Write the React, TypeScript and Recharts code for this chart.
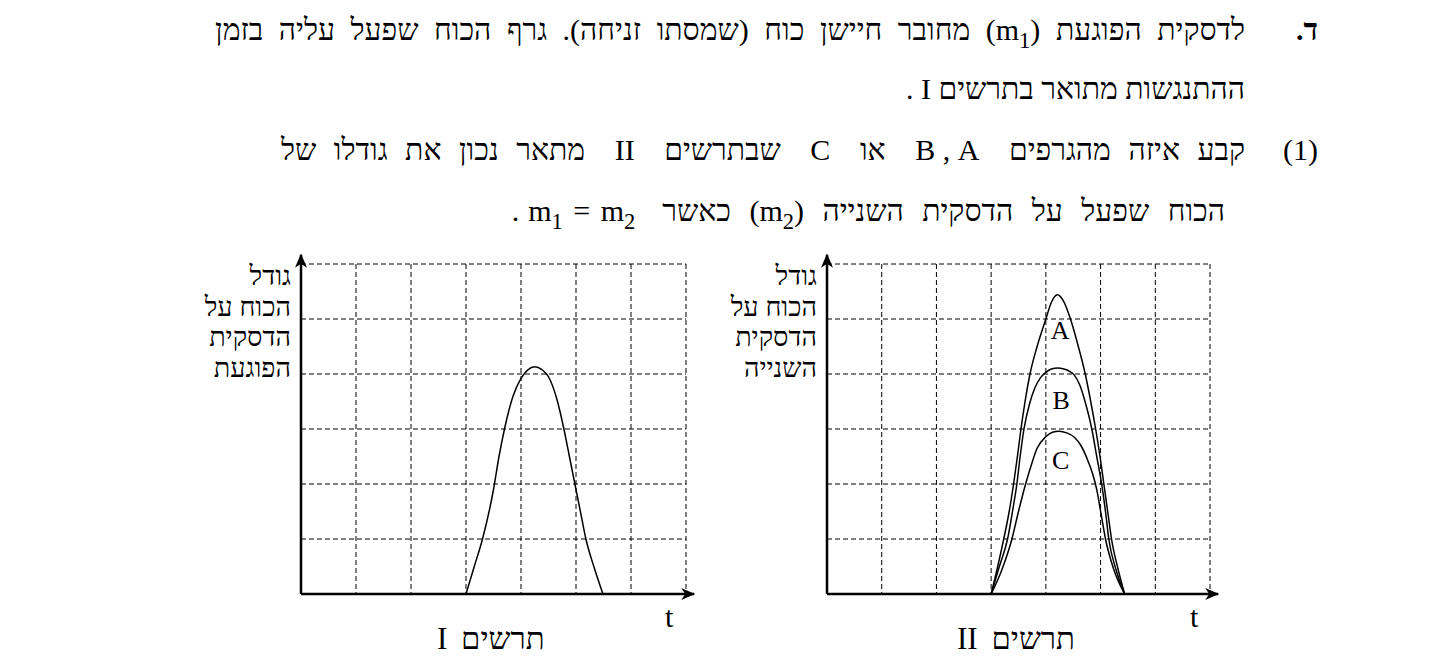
import React from 'react';
import { LineChart, Line, XAxis, YAxis, CartesianGrid, ReferenceLine, ReferenceDot } from 'recharts';

// grid values (the plot has 7 columns and 6 rows)
const gridT = [0, 1, 2, 3, 4, 5, 6, 7];
const gridF = [0, 1, 2, 3, 4, 5, 6];

// diagram I - force on the hitting disc
const impactT = [3.0, 3.15, 3.3, 3.5, 3.6, 3.7, 3.85, 4.0, 4.12, 4.25, 4.38, 4.5, 4.65, 4.78, 4.88, 4.98, 5.08, 5.18, 5.34, 5.49];
const impactF = [0, 0.5, 1.0, 1.9, 2.5, 3.0, 3.58, 3.92, 4.07, 4.13, 4.08, 3.95, 3.55, 3.0, 2.5, 2.0, 1.5, 1.0, 0.45, 0];

// diagram II - curves A, B, C
const curveAT = [3.0, 3.12, 3.23, 3.33, 3.41, 3.48, 3.545, 3.62, 3.71, 3.84, 4.0, 4.1, 4.21, 4.32, 4.45, 4.58, 4.72, 4.82, 4.91, 4.99, 5.06, 5.13, 5.2, 5.32, 5.44];
const curveAF = [0, 0.5, 1.0, 1.5, 2.0, 2.5, 3.0, 3.5, 4.0, 4.5, 5.0, 5.3, 5.44, 5.33, 5.0, 4.55, 4.0, 3.5, 3.0, 2.5, 2.0, 1.5, 1.0, 0.45, 0];
const curveBT = [3.0, 3.15, 3.3, 3.39, 3.47, 3.53, 3.6, 3.7, 3.8, 3.9, 4.0, 4.1, 4.22, 4.33, 4.43, 4.52, 4.62, 4.73, 4.84, 4.93, 5.02, 5.09, 5.15, 5.28, 5.44];
const curveBF = [0, 0.5, 1.0, 1.5, 2.0, 2.5, 3.0, 3.45, 3.75, 3.93, 4.03, 4.09, 4.11, 4.09, 4.05, 3.98, 3.8, 3.45, 3.0, 2.5, 2.0, 1.5, 1.0, 0.45, 0];
const curveCT = [3.0, 3.2, 3.38, 3.5, 3.63, 3.72, 3.84, 4.0, 4.12, 4.24, 4.38, 4.52, 4.64, 4.75, 4.85, 4.93, 5.01, 5.09, 5.24, 5.44];
const curveCF = [0, 0.45, 1.0, 1.5, 2.0, 2.3, 2.65, 2.86, 2.94, 2.96, 2.93, 2.85, 2.7, 2.47, 2.2, 1.9, 1.45, 1.0, 0.45, 0];

const curveLabels = ['A', 'B', 'C'];
const labelT = [4.26, 4.28, 4.27];
const labelF = [4.8, 3.53, 2.44];

const toPoints = (t: number[], f: number[]) => t.map((v, i) => ({ t: v, f: f[i] }));

const FONT = '"Liberation Serif", "Times New Roman", serif';

interface DiagramProps {
    id: string;
    left: number;
    plotWidth: number;
    curves: { t: number[]; f: number[] }[];
    withLabels?: boolean;
}

const Diagram: React.FC<DiagramProps> = ({ id, left, plotWidth, curves, withLabels }) => {
    const width = 420;
    const height = 362;
    const margin = { top: 20, left: 21, right: width - 21 - plotWidth, bottom: 12 };
    return (
        <div style={{ position: 'absolute', left, top: 244, width, height }}>
            <LineChart width={width} height={height} margin={margin}>
                <defs>
                    <marker id={`arrow-${id}`} viewBox="0 0 14 12" refX="13" refY="6" markerWidth="14" markerHeight="12" markerUnits="userSpaceOnUse" orient="auto">
                        <path d="M0,0 L14,6 L0,12 L4,6 Z" fill="#000" />
                    </marker>
                </defs>
                <XAxis type="number" dataKey="t" domain={[0, 7]} ticks={gridT} hide allowDataOverflow />
                <YAxis type="number" dataKey="f" domain={[0, 6]} ticks={gridF} hide allowDataOverflow />
                <CartesianGrid
                    stroke="#000"
                    strokeWidth={1}
                    strokeDasharray="5 3"
                    horizontalValues={gridF}
                    verticalValues={gridT}
                />
                {curves.map((c, i) => (
                    <Line
                        key={i}
                        data={toPoints(c.t, c.f)}
                        dataKey="f"
                        type="monotone"
                        stroke="#000"
                        strokeWidth={1.5}
                        dot={false}
                        activeDot={false}
                        isAnimationActive={false}
                    />
                ))}
                <ReferenceLine
                    segment={[{ x: 0, y: 0 }, { x: 7.15, y: 0 }]}
                    stroke="#000"
                    strokeWidth={2.5}
                    ifOverflow="visible"
                    markerEnd={`url(#arrow-${id})`}
                />
                <ReferenceLine
                    segment={[{ x: 0, y: 0 }, { x: 0, y: 6.17 }]}
                    stroke="#000"
                    strokeWidth={2.5}
                    ifOverflow="visible"
                    markerEnd={`url(#arrow-${id})`}
                />
                {withLabels &&
                    curveLabels.map((name, i) => (
                        <ReferenceDot
                            key={name}
                            x={labelT[i]}
                            y={labelF[i]}
                            r={1}
                            fill="none"
                            stroke="none"
                            ifOverflow="visible"
                            label={{ value: name, position: 'center', fill: '#000', fontSize: 26, fontFamily: FONT }}
                        />
                    ))}
            </LineChart>
        </div>
    );
};

const textLine = (top: number, right: number, size = 30): React.CSSProperties => ({
    position: 'absolute',
    top,
    right,
    fontSize: size,
    lineHeight: '34px',
    whiteSpace: 'nowrap',
    direction: 'rtl',
});

// full lines of a wrapped paragraph are justified between both edges
const justified = (top: number, left: number, right: number): React.CSSProperties => ({
    position: 'absolute',
    top,
    left,
    width: right - left,
    fontSize: 30,
    lineHeight: '34px',
    whiteSpace: 'nowrap',
    direction: 'rtl',
    textAlign: 'justify',
    textAlignLast: 'justify',
});

const axisTitle = (right: number): React.CSSProperties => ({
    position: 'absolute',
    top: 261,
    right,
    fontSize: 27,
    lineHeight: '30.5px',
    direction: 'rtl',
    textAlign: 'right',
    whiteSpace: 'nowrap',
});

const sub: React.CSSProperties = { fontSize: '0.75em', verticalAlign: '-0.35em' };
const math: React.CSSProperties = { display: 'inline-block', direction: 'ltr', padding: '0 27px 0 9px', wordSpacing: '3px' };
const latin: React.CSSProperties = { display: 'inline-block', direction: 'rtl', padding: '0 12px' };

export default function App() {
    return (
        <div style={{ position: 'absolute', left: 0, top: 0, width: 1452, height: 665, background: '#fff', color: '#000', fontFamily: FONT }}>
            <div style={{ ...textLine(13, 134), fontWeight: 'bold' }}>ד.</div>
            <div style={justified(13, 215, 1245)}>
                לדסקית הפוגעת (m<span style={sub}>1</span>) מחובר חיישן כוח (שמסתו זניחה). גרף הכוח שפעל עליה בזמן
            </div>
            <div style={textLine(72, 207)}>ההתנגשות מתואר בתרשים I .</div>
            <div style={textLine(133, 134)}>(1)</div>
            <div style={justified(133, 281, 1245)}>
                קבע איזה מהגרפים <span style={latin}>A{'\u200F'} , B</span> או <span style={latin}>C</span> שבתרשים{' '}
                <span style={latin}>II</span> מתאר נכון את גודלו של
            </div>
            <div style={{ ...textLine(194, 227), wordSpacing: '11px' }}>
                הכוח שפעל על הדסקית השנייה (m<span style={sub}>2</span>) כאשר
                <span style={math}>
                    m<span style={sub}>1</span> = m<span style={sub}>2</span>
                </span>
                .
            </div>

            <div style={axisTitle(1452 - 291)}>
                גודל
                <br />
                הכוח על
                <br />
                הדסקית
                <br />
                הפוגעת
            </div>
            <div style={axisTitle(1452 - 817)}>
                גודל
                <br />
                הכוח על
                <br />
                הדסקית
                <br />
                השנייה
            </div>

            <Diagram id="one" left={280} plotWidth={385} curves={[{ t: impactT, f: impactF }]} />
            <Diagram
                id="two"
                left={806}
                plotWidth={383}
                withLabels
                curves={[
                    { t: curveAT, f: curveAF },
                    { t: curveBT, f: curveBF },
                    { t: curveCT, f: curveCF },
                ]}
            />

            <div style={{ position: 'absolute', left: 665, top: 600, fontSize: 30 }}>t</div>
            <div style={{ position: 'absolute', left: 1190, top: 600, fontSize: 30 }}>t</div>
            <div style={{ ...textLine(622, 0, 31), left: 437, right: 'auto', wordSpacing: '6px' }}>תרשים I</div>
            <div style={{ ...textLine(622, 0, 31), left: 957, right: 'auto', wordSpacing: '6px' }}>תרשים II</div>
        </div>
    );
}
